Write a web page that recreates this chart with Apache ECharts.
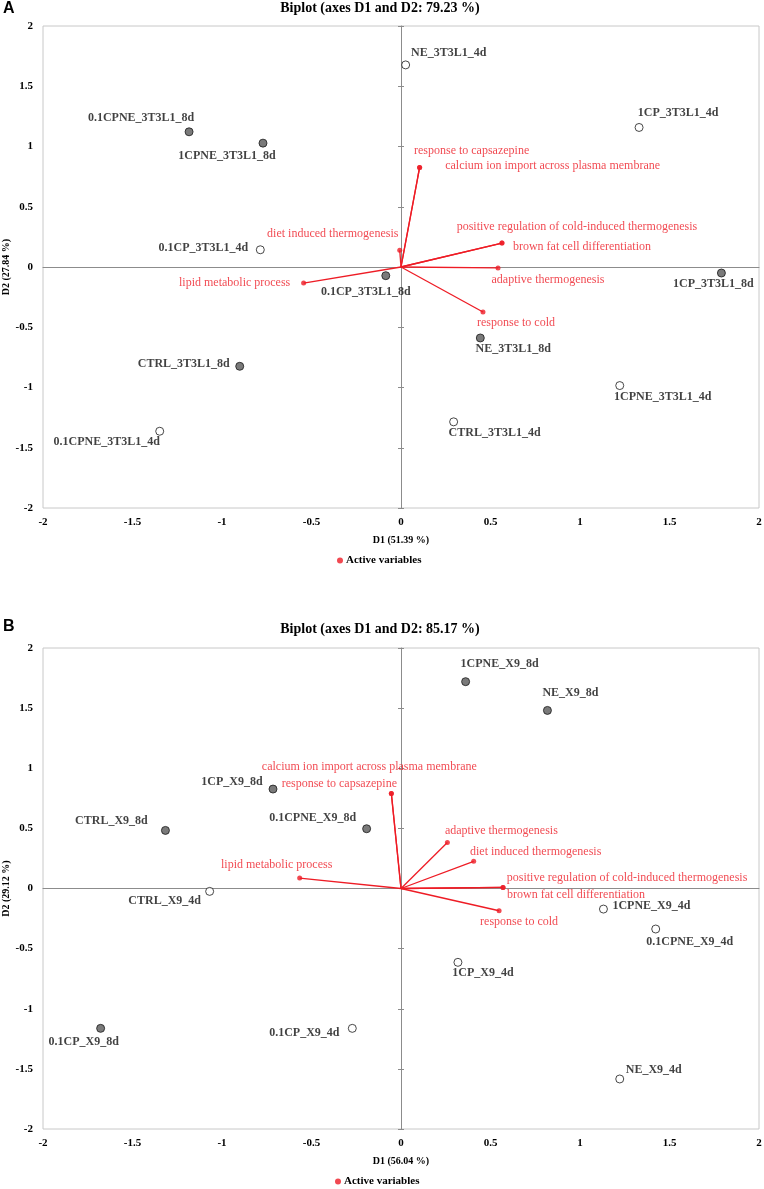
<!DOCTYPE html>
<html>
<head>
<meta charset="utf-8">
<script src="https://cdn.jsdelivr.net/npm/echarts@6/dist/echarts.min.js"></script>
<style>
html,body{margin:0;padding:0;background:#fff;}
#chart{width:764px;height:1189px;}
</style>
</head>
<body>
<div id="chart"></div>
<script>
// ---------- Panel A data ----------
const titleA = 'Biplot (axes D1 and D2: 79.23 %)';
const xNameA = 'D1 (51.39 %)';
const yNameA = 'D2 (27.84 %)';
const samplesA = ['NE_3T3L1_4d','1CP_3T3L1_4d','0.1CP_3T3L1_4d','0.1CPNE_3T3L1_4d','1CPNE_3T3L1_4d','CTRL_3T3L1_4d',
                  '0.1CPNE_3T3L1_8d','1CPNE_3T3L1_8d','1CP_3T3L1_8d','0.1CP_3T3L1_8d','CTRL_3T3L1_8d','NE_3T3L1_8d'];
const d1A = [0.026, 1.330, -0.786, -1.348, 1.222, 0.294, -1.184, -0.771, 1.790, -0.085, -0.901, 0.443];
const d2A = [1.677, 1.158, 0.143, -1.363, -0.984, -1.285, 1.122, 1.028, -0.050, -0.072, -0.824, -0.589];
const varsA = ['response to capsazepine','calcium ion import across plasma membrane','diet induced thermogenesis',
               'positive regulation of cold-induced thermogenesis','brown fat cell differentiation','adaptive thermogenesis',
               'lipid metabolic process','response to cold'];
const vd1A = [0.104, 0.104, -0.007, 0.564, 0.564, 0.542, -0.544, 0.458];
const vd2A = [0.826, 0.826, 0.138, 0.199, 0.199, -0.008, -0.133, -0.373];

// ---------- Panel B data ----------
const titleB = 'Biplot (axes D1 and D2: 85.17 %)';
const xNameB = 'D1 (56.04 %)';
const yNameB = 'D2 (29.12 %)';
const samplesB = ['1CP_X9_8d','CTRL_X9_8d','0.1CPNE_X9_8d','1CPNE_X9_8d','NE_X9_8d','0.1CP_X9_8d',
                  '1CPNE_X9_4d','0.1CPNE_X9_4d','1CP_X9_4d','NE_X9_4d','CTRL_X9_4d','0.1CP_X9_4d'];
const d1B = [-0.715, -1.316, -0.192, 0.361, 0.818, -1.678, 1.131, 1.423, 0.318, 1.222, -1.069, -0.272];
const d2B = [0.827, 0.483, 0.497, 1.720, 1.481, -1.163, -0.171, -0.337, -0.614, -1.584, -0.024, -1.163];
const varsB = ['calcium ion import across plasma membrane','response to capsazepine','lipid metabolic process',
               'adaptive thermogenesis','diet induced thermogenesis','positive regulation of cold-induced thermogenesis',
               'brown fat cell differentiation','response to cold'];
const vd1B = [-0.054, -0.054, -0.566, 0.259, 0.406, 0.570, 0.570, 0.548];
const vd2B = [0.791, 0.791, 0.087, 0.383, 0.226, 0.009, 0.009, -0.185];

const legendName = 'Active variables';
const axisMin = -2, axisMax = 2, axisStep = 0.5;

// ---------- layout (label offsets in px, relative to marks) ----------
const sampleOffA = [[43,-12],[39,-15],[-57,-2],[-53,11],[43,11],[41,11],[-48,-14],[-36,13],[-8,11],[-20,16],[-56,-2],[33,11]];
const varOffA = [[52,-17],[133,-2],[-67,-17],[75,-16],[80,4],[50,12],[-69,0],[33,11]];
const sampleOffB = [[-41,-7],[-54,-10],[-54,-11],[34,-18],[23,-18],[-17,14],[48,-3],[34,13],[25,11],[34,-9],[-45,10],[-48,5]];
const varOffB = [[-22,-27],[-52,-10],[-23,-13],[54,-12],[62,-9],[124,-10],[73,7],[20,11]];

const SERIF = '"Liberation Serif","Times New Roman",serif';
const RED = '#ee1c25';
const grids = [
  {left: 43, top: 26, width: 716, height: 482},
  {left: 43, top: 648, width: 716, height: 481}
];

const chart = echarts.init(document.getElementById('chart'), null, {renderer: 'canvas'});

function axesFor(gi, xName, yName) {
  const g = grids[gi];
  const xs = [], ys = [];
  xs.push({type:'value', gridIndex:gi, min:axisMin, max:axisMax, interval:axisStep, position:'bottom',
    name:xName, nameLocation:'middle', nameGap:27, nameMoveOverlap:false,
    nameTextStyle:{fontFamily:SERIF, fontWeight:'bold', fontSize:10, color:'#000'},
    axisLine:{show:false}, axisTick:{show:false}, splitLine:{show:false},
    axisLabel:{fontFamily:SERIF, fontWeight:'bold', fontSize:11, color:'#000', margin:9}});
  xs.push({type:'value', gridIndex:gi, min:axisMin, max:axisMax, interval:axisStep, position:'bottom',
    offset:-g.height/2, axisLine:{show:true, onZero:false, lineStyle:{color:'#8c8c8c', width:1}},
    axisTick:{show:false}, axisLabel:{show:false}, splitLine:{show:false}});
  ys.push({type:'value', gridIndex:gi, min:axisMin, max:axisMax, interval:axisStep, position:'left',
    name:yName, nameLocation:'middle', nameGap:32, nameMoveOverlap:false,
    nameTextStyle:{fontFamily:SERIF, fontWeight:'bold', fontSize:10, color:'#000'},
    axisLine:{show:false}, axisTick:{show:false}, splitLine:{show:false},
    axisLabel:{fontFamily:SERIF, fontWeight:'bold', fontSize:11, color:'#000', margin:10}});
  ys.push({type:'value', gridIndex:gi, min:axisMin, max:axisMax, interval:axisStep, position:'left',
    offset:-g.width/2, axisLine:{show:true, onZero:false, lineStyle:{color:'#8c8c8c', width:1}},
    axisTick:{show:true, inside:false, length:3, lineStyle:{color:'#8c8c8c'}}, axisLabel:{show:false}, splitLine:{show:false}});
  ys.push({type:'value', gridIndex:gi, min:axisMin, max:axisMax, interval:axisStep, position:'left',
    offset:-g.width/2, axisLine:{show:false},
    axisTick:{show:true, inside:true, length:3, lineStyle:{color:'#8c8c8c'}}, axisLabel:{show:false}, splitLine:{show:false}});
  return {xs, ys};
}

const aA = axesFor(0, xNameA, yNameA);
const aB = axesFor(1, xNameB, yNameB);
const xAxes = aA.xs.concat(aB.xs);
const yAxes = aA.ys.concat(aB.ys);

function sampleSeries(gi, names, xs, ys, offs) {
  const xi = gi * 2, yi = gi * 3;
  const data = names.map((n, i) => {
    const filled = /_8d$/.test(n);
    return {
      name: n, value: [xs[i], ys[i]],
      itemStyle: {color: filled ? '#595959' : '#ffffff', borderColor: '#1a1a1a', borderWidth: 1},
      label: {offset: offs[i]}
    };
  });
  return {
    type:'scatter', xAxisIndex:xi, yAxisIndex:yi, symbol:'circle', symbolSize:8, z:5,
    data,
    label:{show:true, position:'inside', formatter:'{b}', fontFamily:SERIF, fontWeight:'bold',
      fontSize:12, color:'#111', align:'center', verticalAlign:'middle'},
    emphasis:{disabled:true}, animation:false
  };
}

function vectorSeries(gi, names, xs, ys, offs) {
  const xi = gi * 2, yi = gi * 3;
  const lines = {
    type:'lines', coordinateSystem:'cartesian2d', xAxisIndex:xi, yAxisIndex:yi, z:3,
    lineStyle:{color:RED, width:1.3, opacity:1},
    data: names.map((n, i) => ({coords:[[0, 0], [xs[i], ys[i]]]})),
    silent:true, animation:false
  };
  const pts = {
    type:'scatter', name:legendName, xAxisIndex:xi, yAxisIndex:yi, symbol:'circle', symbolSize:5, z:4,
    itemStyle:{color:RED},
    data: names.map((n, i) => ({name:n, value:[xs[i], ys[i]], label:{offset:offs[i]}})),
    label:{show:true, position:'inside', formatter:'{b}', fontFamily:SERIF, fontSize:12, color:RED,
      align:'center', verticalAlign:'middle'},
    emphasis:{disabled:true}, animation:false
  };
  return [lines, pts];
}

const series = [
  ...vectorSeries(0, varsA, vd1A, vd2A, varOffA),
  sampleSeries(0, samplesA, d1A, d2A, sampleOffA),
  ...vectorSeries(1, varsB, vd1B, vd2B, varOffB),
  sampleSeries(1, samplesB, d1B, d2B, sampleOffB)
];

const legendStyle = {
  data:[legendName], icon:'circle', itemWidth:6, itemHeight:6, itemGap:4, selectedMode:false,
  textStyle:{fontFamily:SERIF, fontWeight:'bold', fontSize:11, color:'#000', padding:[0,0,0,-2]}
};

chart.setOption({
  animation:false,
  backgroundColor:'#ffffff',
  grid: grids.map(g => Object.assign({show:true, borderColor:'#c8c8c8', borderWidth:1, backgroundColor:'transparent',
    containLabel:false, outerBoundsMode:'none'}, g)),
  xAxis: xAxes,
  yAxis: yAxes,
  legend: [
    Object.assign({left:337, top:555, padding:0}, legendStyle),
    Object.assign({left:335, top:1176, padding:0}, legendStyle)
  ],
  graphic: [
    {type:'text', left:3, top:1, style:{text:'A', font:'bold 16px "Liberation Sans", Arial, sans-serif', fill:'#000'}},
    {type:'text', x:380, y:8, style:{text:titleA, font:'bold 14px ' + SERIF, fill:'#000', align:'center', verticalAlign:'middle'}},
    {type:'text', left:3, top:619, style:{text:'B', font:'bold 16px "Liberation Sans", Arial, sans-serif', fill:'#000'}},
    {type:'text', x:380, y:629, style:{text:titleB, font:'bold 14px ' + SERIF, fill:'#000', align:'center', verticalAlign:'middle'}}
  ],
  series
});
</script>
</body>
</html>
